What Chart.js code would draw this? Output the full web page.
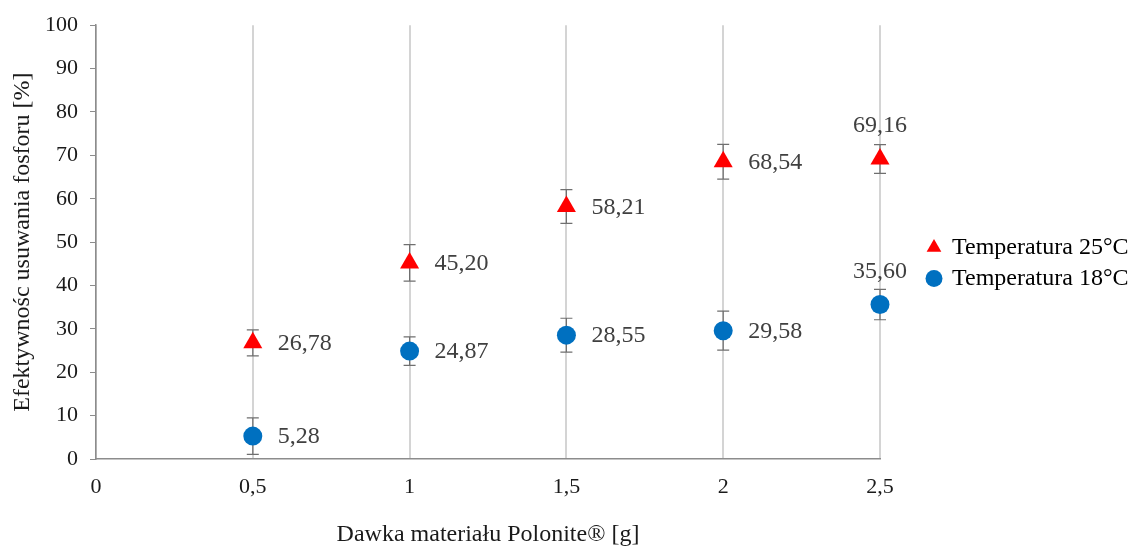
<!DOCTYPE html>
<html>
<head>
<meta charset="utf-8">
<title>Efektywność usuwania fosforu</title>
<script src="https://cdn.jsdelivr.net/npm/chart.js@4.4.0/dist/chart.umd.min.js"></script>
<style>
  html, body { margin: 0; padding: 0; background: #fff; }
</style>
</head>
<body>
<canvas id="polonite" width="1131" height="550"></canvas>
<script>
// dawka materiału [g]
const doses = [0.5, 1, 1.5, 2, 2.5];
// efektywność usuwania P [%] i odchylenia
const temp25 = [26.78, 45.20, 58.21, 68.54, 69.16];
const temp25Err = [3.0, 4.2, 3.9, 4.0, 3.3];
const temp18 = [5.28, 24.87, 28.55, 29.58, 35.60];
const temp18Err = [4.2, 3.3, 3.9, 4.5, 3.5];
const seriesNames = ['Temperatura 25°C', 'Temperatura 18°C'];

const FONT = '"Liberation Serif", "Times New Roman", serif';
const comma = v => String(v).replace('.', ',');

function points(ys) {
    return doses.map((x, i) => ({ x: x, y: ys[i] }));
}

// wąsy błędów pod markerami
const errorBars = {
    id: 'errorBars',
    beforeDatasetsDraw(chart) {
        const ctx = chart.ctx;
        const yScale = chart.scales.y;
        ctx.save();
        ctx.strokeStyle = '#6f6f6f';
        ctx.lineWidth = 1.2;
        chart.data.datasets.forEach((ds, di) => {
            const meta = chart.getDatasetMeta(di);
            meta.data.forEach((pt, i) => {
                const v = ds.data[i].y;
                const e = ds.errors[i];
                const top = yScale.getPixelForValue(v + e);
                const bot = yScale.getPixelForValue(v - e);
                ctx.beginPath();
                ctx.moveTo(pt.x, top);
                ctx.lineTo(pt.x, bot);
                ctx.moveTo(pt.x - 6, top);
                ctx.lineTo(pt.x + 6, top);
                ctx.moveTo(pt.x - 6, bot);
                ctx.lineTo(pt.x + 6, bot);
                ctx.stroke();
            });
        });
        ctx.restore();
    }
};

// etykiety wartości obok punktów (ostatni punkt - nad nim)
const valueLabels = {
    id: 'valueLabels',
    afterDatasetsDraw(chart) {
        const ctx = chart.ctx;
        ctx.save();
        ctx.font = '24px ' + FONT;
        ctx.fillStyle = '#404040';
        chart.data.datasets.forEach((ds, di) => {
            const meta = chart.getDatasetMeta(di);
            const last = meta.data.length - 1;
            meta.data.forEach((pt, i) => {
                const txt = ds.data[i].y.toFixed(2).replace('.', ',');
                ctx.textBaseline = 'middle';
                if (i === last) {
                    ctx.textAlign = 'center';
                    ctx.fillText(txt, pt.x, pt.y - 33);
                } else {
                    ctx.textAlign = 'left';
                    ctx.fillText(txt, pt.x + 25, pt.y + 1);
                }
            });
        });
        ctx.restore();
    }
};

// legenda odsunięta od obszaru wykresu, wyśrodkowana nieco wyżej
const legendPlace = {
    id: 'legendPlace',
    afterLayout(chart) {
        const lg = chart.legend;
        const dx = chart.chartArea.right + 41 - lg.left;
        lg.left += dx;
        lg.right += dx;
        lg.top = 0;
        lg.bottom = 526;
        lg.height = 526;
    }
};

const ctx = document.getElementById('polonite').getContext('2d');
const chart = new Chart(ctx, {
    type: 'scatter',
    data: {
        datasets: [{
            label: seriesNames[0],
            data: points(temp25),
            errors: temp25Err,
            clip: false,
            pointStyle: 'triangle',
            pointRadius: 11,
            pointHoverRadius: 11,
            backgroundColor: '#ff0000',
            borderColor: '#ff0000',
            borderWidth: 0
        }, {
            label: seriesNames[1],
            data: points(temp18),
            errors: temp18Err,
            clip: false,
            pointStyle: 'circle',
            pointRadius: 9.5,
            pointHoverRadius: 9.5,
            backgroundColor: '#0070c0',
            borderColor: '#0070c0',
            borderWidth: 0
        }]
    },
    options: {
        responsive: false,
        animation: false,
        layout: { padding: { top: 25, right: 0, bottom: 0, left: 0 } },
        scales: {
            x: {
                type: 'linear',
                min: 0,
                max: 2.5,
                afterFit: s => { s.height = 91; s.paddingRight = s.chart.width - 880; },
                ticks: {
                    stepSize: 0.5,
                    padding: 15,
                    color: '#1a1a1a',
                    font: { family: FONT, size: 22 },
                    callback: v => comma(v)
                },
                grid: {
                    color: '#d4d4d4',
                    lineWidth: 2,
                    drawTicks: false
                },
                border: { color: '#8c8c8c', width: 1.5 },
                title: {
                    display: true,
                    text: 'Dawka materiału Polonite® [g]',
                    color: '#1a1a1a',
                    font: { family: FONT, size: 24 },
                    padding: { top: 0, bottom: 1 }
                }
            },
            y: {
                min: 0,
                max: 100,
                afterFit: s => { s.width = 96; },
                ticks: {
                    stepSize: 10,
                    padding: 12,
                    color: '#1a1a1a',
                    font: { family: FONT, size: 22 }
                },
                grid: {
                    drawOnChartArea: false,
                    drawTicks: true,
                    tickLength: 6,
                    color: '#8c8c8c'
                },
                border: { color: '#8c8c8c', width: 1.5 },
                title: {
                    display: true,
                    text: 'Efektywnośc usuwania fosforu [%]',
                    color: '#1a1a1a',
                    font: { family: FONT, size: 24 },
                    padding: { top: 8, bottom: 0 }
                }
            }
        },
        plugins: {
            legend: {
                position: 'right',
                align: 'center',
                labels: {
                    usePointStyle: true,
                    boxWidth: 12,
                    boxHeight: 12,
                    padding: 7,
                    color: '#000',
                    font: { family: FONT, size: 24 }
                }
            },
            tooltip: { enabled: false }
        }
    },
    plugins: [errorBars, valueLabels, legendPlace]
});
</script>
</body>
</html>
